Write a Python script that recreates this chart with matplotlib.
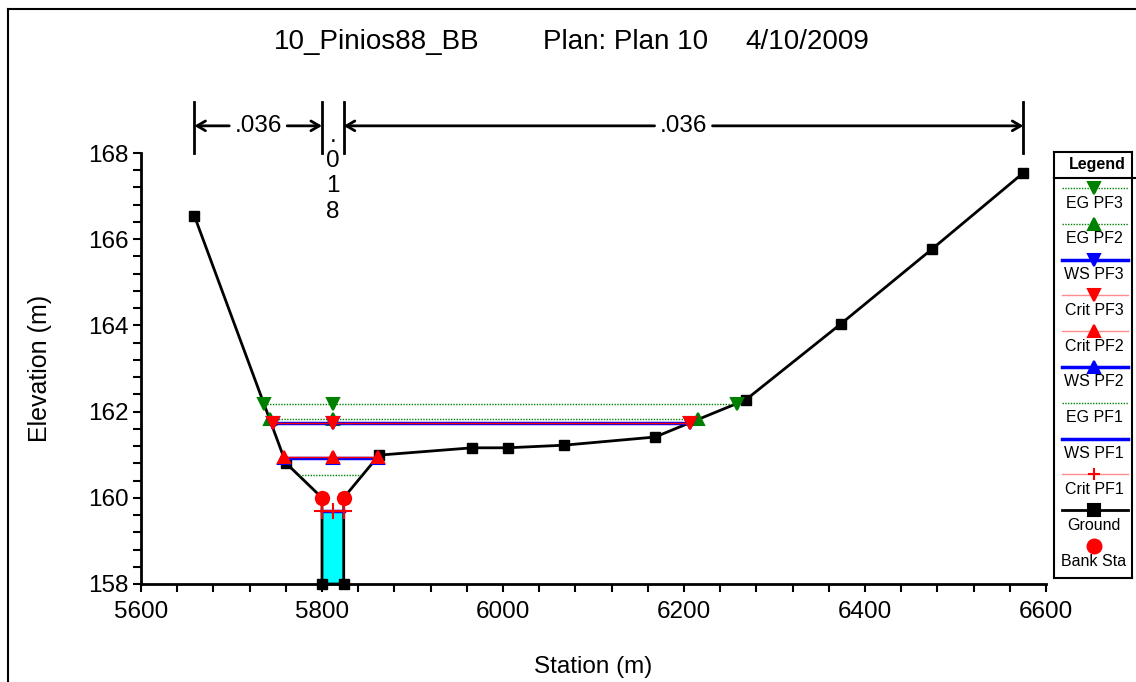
import matplotlib
matplotlib.use('Agg')
import matplotlib.pyplot as plt
from matplotlib import font_manager
from matplotlib.lines import Line2D
from matplotlib.ticker import MultipleLocator

# cross section data (station m, elevation m)
ground_x = [5659, 5760, 5800, 5800, 5824, 5824, 5863, 5966, 6005, 6067, 6168, 6268, 6373, 6474, 6575]
ground_y = [166.54, 160.81, 160.0, 158.0, 158.0, 160.0, 160.99, 161.16, 161.16, 161.22, 161.41, 162.27,
            164.03, 165.77, 167.54]
bank_x = [5800, 5824]
bank_y = [160.0, 160.0]

# Manning's n regions
n_breaks = [5659, 5800, 5824, 6575]
n_values = ['.036', '.018', '.036']

# water surface profiles: (left station, right station, elevation)
mid_sta = 5812
eg_pf3 = (5736, 6259, 162.17)
eg_pf2 = (5743, 6215, 161.82)
ws_pf3 = (5746, 6207, 161.74)
crit_pf3 = (5746, 6207, 161.74)
ws_pf2 = (5758, 5862, 160.93)
crit_pf2 = (5758, 5862, 160.95)
eg_pf1 = (5775, 5843, 160.53)
ws_pf1 = (5800, 5824, 159.70)
crit_pf1 = (5800, 5824, 159.70)

GREEN = '#008000'
BLUE = '#0000FF'
RED = '#FF0000'
PINK = '#FF8C8C'

names = {f.name for f in font_manager.fontManager.ttflist}
if 'Liberation Sans Narrow' in names:
    main_font = 'Liberation Sans Narrow'
    fs_tick, fs_title = 20, 23
else:
    main_font = 'Liberation Sans'
    fs_tick, fs_title = 17.5, 20
plt.rcParams['font.family'] = [main_font, 'DejaVu Sans']

W, H = 1136, 682
fig = plt.figure(figsize=(W / 100, H / 100), dpi=100)
ax = fig.add_axes([141 / W, 1 - 584 / H, (1046 - 141) / W, (584 - 153) / H])


def profile(p, color, ls, lw, marker, ms, z):
    x0, x1, y = p
    ax.plot([x0, x1], [y, y], color=color, ls=ls, lw=lw, zorder=z)
    if marker:
        ax.plot([x0, mid_sta, x1], [y, y, y], ls='none', marker=marker, color=color,
                ms=ms, mew=1.5, zorder=z + 0.5)


# water in main channel
ax.fill_between([ws_pf1[0], ws_pf1[1]], [min(ground_y)] * 2, [ws_pf1[2]] * 2,
                color='#00FFFF', lw=0, zorder=1)

ax.plot(ground_x, ground_y, color='black', lw=2, marker='s', ms=7.5, zorder=3, clip_on=False)

dotted = (0, (1, 1))
profile(eg_pf3, GREEN, dotted, 1, 'v', 9, 4)
profile(eg_pf2, GREEN, dotted, 1, '^', 9, 4)
profile(eg_pf1, GREEN, dotted, 1, None, 0, 4)
profile(ws_pf3, BLUE, '-', 2.5, 'v', 9, 5)
profile(ws_pf2, BLUE, '-', 2.5, '^', 9, 5)
profile(ws_pf1, BLUE, '-', 2.5, None, 0, 5)
profile(crit_pf3, RED, '-', 1, 'v', 9, 6)
profile(crit_pf2, RED, '-', 1, '^', 9, 6)
profile(crit_pf1, RED, '-', 1, '+', 11, 6)

ax.plot(bank_x, bank_y, ls='none', marker='o', color=RED, ms=10, zorder=8)

ax.set_xlim(5600, 6600)
ax.set_ylim(158, 168)
ax.xaxis.set_major_locator(MultipleLocator(200))
ax.xaxis.set_minor_locator(MultipleLocator(40))
ax.yaxis.set_major_locator(MultipleLocator(2))
ax.yaxis.set_minor_locator(MultipleLocator(0.4))
ax.tick_params(which='both', direction='out', length=6, width=1.5, labelsize=fs_tick)
ax.tick_params(axis='x', pad=6)
ax.tick_params(axis='y', pad=3)
for s in ['top', 'right']:
    ax.spines[s].set_visible(False)
for s in ['left', 'bottom']:
    ax.spines[s].set_linewidth(2)

ax.set_xlabel('Station (m)', fontsize=fs_tick, labelpad=24)
ax.set_ylabel('Elevation (m)', fontsize=fs_tick + 0.5, labelpad=26)

# Manning's n bars above the plot
y_arrow = 168.63
for xb in n_breaks:
    ax.plot([xb, xb], [168.0, 169.18], color='black', lw=2, clip_on=False)
for i, val in enumerate(n_values):
    a, b = n_breaks[i], n_breaks[i + 1]
    mid = (a + b) / 2
    if b - a < 60:
        ax.text(mid, 167.52, '\n'.join(val), ha='center', va='center', fontsize=fs_tick,
                linespacing=1.2)
        continue
    ax.text(mid, y_arrow, val, ha='center', va='center', fontsize=fs_tick)
    gap = 32
    for tail, head in [(mid - gap, a), (mid + gap, b)]:
        ax.annotate('', xy=(head, y_arrow), xytext=(tail, y_arrow), annotation_clip=False,
                    arrowprops=dict(arrowstyle='->,head_length=0.6,head_width=0.35', lw=2,
                                    color='black', shrinkA=0, shrinkB=0))

fig.text(274 / W, 1 - 42 / H, '10_Pinios88_BB', fontsize=fs_title, ha='left', va='center')
fig.text(543 / W, 1 - 42 / H, 'Plan: Plan 10', fontsize=fs_title, ha='left', va='center')
fig.text(745 / W, 1 - 42 / H, '4/10/2009', fontsize=fs_title, ha='left', va='center')

# frame lines of the window
fig.add_artist(Line2D([8 / W, 8 / W], [0, 1 - 9 / H], color='black', lw=1.5))
fig.add_artist(Line2D([8 / W, 1], [1 - 9 / H, 1 - 9 / H], color='black', lw=1.5))

# legend panel
lx0, lx1, ly0, ly1 = 1054, 1132, 152, 578
lax = fig.add_axes([lx0 / W, 1 - ly1 / H, (lx1 - lx0) / W, (ly1 - ly0) / H])
lax.set_xlim(lx0, lx1)
lax.set_ylim(ly1, ly0)
lax.set_xticks([])
lax.set_yticks([])
for s in lax.spines.values():
    s.set_linewidth(1.5)
lax.plot([lx0, 1136], [178, 178], color='black', lw=1.5, clip_on=False)
lax.text(1097, 164, 'Legend', ha='center', va='center', fontsize=11.5, fontweight='bold',
         family=['Liberation Sans', 'DejaVu Sans'])

leg_names = ['EG PF3', 'EG PF2', 'WS PF3', 'Crit PF3', 'Crit PF2', 'WS PF2', 'EG PF1',
             'WS PF1', 'Crit PF1', 'Ground', 'Bank Sta']
leg_styles = [
    (GREEN, dotted, 1, 'v'), (GREEN, dotted, 1, '^'), (BLUE, '-', 2.5, 'v'),
    (PINK, '-', 1, 'v'), (PINK, '-', 1, '^'), (BLUE, '-', 2.5, '^'),
    (GREEN, dotted, 1, None), (BLUE, '-', 2.5, None), (PINK, '-', 1, '+'),
    ('black', '-', 2, 's'), (None, None, 0, 'o'),
]
mk_colors = [GREEN, GREEN, BLUE, RED, RED, BLUE, None, None, RED, 'black', RED]
for i, (name, st) in enumerate(zip(leg_names, leg_styles)):
    yl = 188 + i * 35.8
    color, ls, lw, mk = st
    if color is not None:
        lax.plot([1062, 1128], [yl, yl], color=color, ls=ls, lw=lw)
    if mk:
        lax.plot([1094], [yl], marker=mk, color=mk_colors[i], ms=8 if mk != 'o' else 10, mew=1.5)
    lax.text(1094, yl + 15, name, ha='center', va='center', fontsize=11.5,
             family=['Liberation Sans', 'DejaVu Sans'])

fig.savefig('out.png', dpi=100)
